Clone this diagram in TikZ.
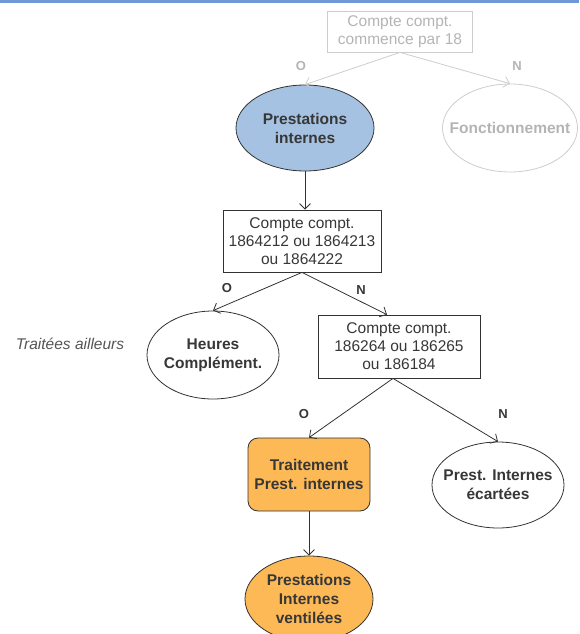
\documentclass[tikz,border=0pt]{standalone}
\usepackage{fontspec}
\setmainfont{Liberation Sans}
\usetikzlibrary{shapes.geometric,arrows.meta}

\definecolor{barblue}{RGB}{112,151,214}
\definecolor{bluefill}{RGB}{165,194,226}
\definecolor{orangefill}{RGB}{252,185,86}
\definecolor{darkline}{RGB}{50,50,50}
\definecolor{darktext}{RGB}{55,55,55}
\definecolor{fadeline}{RGB}{205,205,205}
\definecolor{fadetext}{RGB}{180,180,180}
\definecolor{notegray}{RGB}{85,85,85}

\begin{document}
\begin{tikzpicture}[x=1pt,y=-1pt,
  testbox/.style={rectangle,draw=darkline,line width=0.8pt,text=darktext,align=center,inner sep=0pt,
    font=\fontsize{15.5}{18}\selectfont},
  leaf/.style={ellipse,draw=darkline,line width=0.8pt,inner sep=0pt},
  leaftxt/.style={align=center,inner sep=0pt,text=darktext,font=\bfseries\fontsize{15.5}{19}\selectfont},
  faded/.style={draw=fadeline,text=fadetext},
  flow/.style={draw=darkline,line width=0.8pt,-{Straight Barb[length=5.5pt,width=11pt]}},
  yn/.style={font=\bfseries\fontsize{13}{13}\selectfont,text=darktext}]

\useasboundingbox (0,0) rectangle (579,634);

%title bar
\fill[barblue] (0,0) rectangle (579,3);

%compte commence par 18
\node[testbox,faded,minimum width=145pt,minimum height=41pt] (t18) at (400,31.5) {Compte compt.\\commence par 18};
%prestations internes
\node[leaf,fill=bluefill,minimum width=138pt,minimum height=86pt,
  label={[leaftxt]center:Prestations\\internes}] (prest) at (305,128) {};
%fonctionnement
\node[leaf,draw=fadeline,minimum width=135pt,minimum height=88pt,
  label={[leaftxt,text=fadetext]center:Fonctionnement}] (fonct) at (510,128) {};
\draw[flow,draw=fadeline] (t18.south) -- (prest.north);
\draw[flow,draw=fadeline] (t18.south) -- (fonct.north);
\node[yn,text=fadetext] (o1) at (301,66) {O};
\node[yn,text=fadetext] (n1) at (517,66) {N};

%compte 1864212 ...
\node[testbox,minimum width=158pt,minimum height=62pt] (t1864) at (302,241) {Compte compt.\\1864212 ou 1864213\\ou 1864222};
\draw[flow] (prest.south) -- (prest.south |- t1864.north);

%heures complementaires
\node[leaf,minimum width=132pt,minimum height=88pt,
  label={[leaftxt]center:Heures\\Complément.}] (heures) at (213,355) {};
\node[text=notegray,font=\itshape\fontsize{15.5}{18}\selectfont] (ailleurs) at (70,344) {Traitées ailleurs};

%compte 186264 ...
\node[testbox,minimum width=162pt,minimum height=63pt] (t1862) at (399,346.5) {Compte compt.\\186264 ou 186265\\ou 186184};
\draw[flow] (t1864.south) -- (heures.north);
\draw[flow] (t1864.south) -- ([xshift=-12pt]t1862.north);
\node[yn] (o2) at (227,288) {O};
\node[yn] (n2) at (361,290) {N};

%traitement
\node[testbox,fill=orangefill,rounded corners=10pt,minimum width=122pt,minimum height=73pt,
  font=\bfseries\fontsize{15.5}{19}\selectfont] (trait) at (309,474.5) {Traitement\\Prest. internes};
%ecartees
\node[leaf,minimum width=132pt,minimum height=86pt,
  label={[leaftxt]center:Prest. Internes\\écartées}] (ecart) at (498,485) {};
\draw[flow] ([xshift=-6pt]t1862.south) -- (trait.north);
\draw[flow] ([xshift=-6pt]t1862.south) -- (ecart.north);
\node[yn] (o3) at (304,414) {O};
\node[yn] (n3) at (503,414) {N};

%ventilees
\node[leaf,fill=orangefill,minimum width=128pt,minimum height=86pt,
  label={[leaftxt]center:Prestations\\Internes\\ventilées}] (vent) at (309,599) {};
\draw[flow] (trait.south) -- (trait.south |- vent.north);

\end{tikzpicture}
\end{document}
